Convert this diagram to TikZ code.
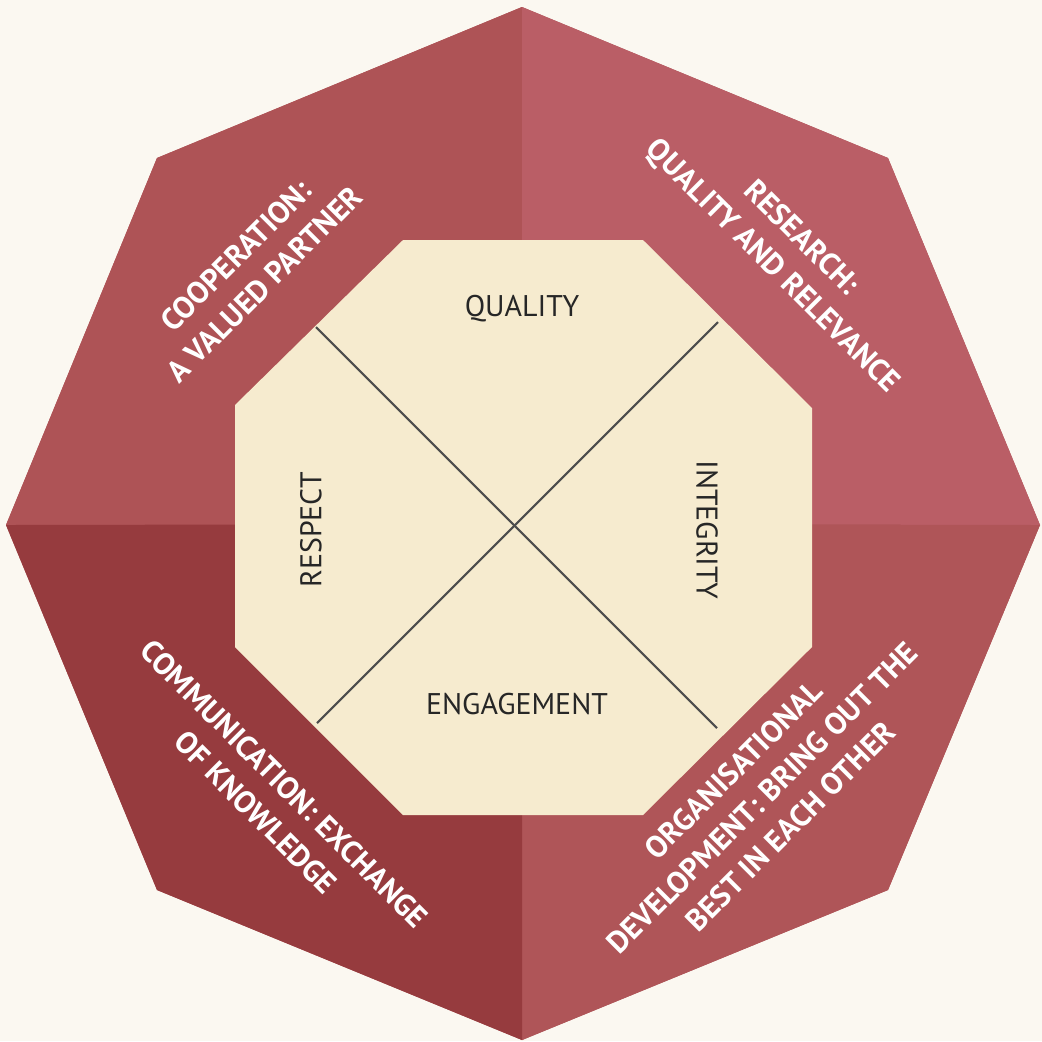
\documentclass[tikz,border=0pt]{standalone}
\usepackage{fontspec}
\setmainfont{PT Sans}
\definecolor{paper}{HTML}{FBF8F1}
\definecolor{segtl}{HTML}{AE5356}
\definecolor{segtr}{HTML}{BA5E66}
\definecolor{segbl}{HTML}{963B3E}
\definecolor{segbr}{HTML}{AF5558}
\definecolor{core}{HTML}{F6EBCF}
\definecolor{crossgray}{HTML}{4D4D4D}
\begin{document}
\begin{tikzpicture}[x=0.01cm, y=-0.01cm,
  goal/.style={text=white, font=\bfseries\fontsize{8.7}{11.4}\selectfont, align=center, inner sep=0pt},
  value/.style={text=black!85, font=\fontsize{8.5}{10}\selectfont, inner sep=0pt},
  cross/.style={draw=crossgray, line width=0.6pt}]
\useasboundingbox (0,0) rectangle (1042,1041);
\fill[paper] (0,0) rectangle (1042,1041);
\fill[segtl] (522,7) -- (888,158) -- (1040,525) -- (888,890) -- (522,1040) -- (157,890) -- (6,525) -- (157,158) -- cycle;
\fill[segtl] (522,524) -- (6,525) -- (157,158) -- (522,7) -- cycle;
\fill[segtr] (522,524) -- (522,7) -- (888,158) -- (1040,525) -- cycle;
\fill[segbr] (522,524) -- (1040,525) -- (888,890) -- (522,1040) -- cycle;
\fill[segbl] (522,524) -- (522,1040) -- (157,890) -- (6,525) -- cycle;
\fill[core] (403,240) -- (643,240) -- (812,408) -- (812,647) -- (643,815) -- (403,815) -- (235,647) -- (235,405) -- cycle;
\coordinate (c1) at (316,327);
\coordinate (c2) at (718,322);
\coordinate (c3) at (717,728);
\coordinate (c4) at (317,723);
\draw[cross] (c1) -- (c3);
\draw[cross] (c2) -- (c4);
\node[value] (quality) at (522,309) {QUALITY};
\node[value] (engagement) at (517,704) {ENGAGEMENT};
\node[value,rotate=90] (respect) at (311,530) {RESPECT};
\node[value,rotate=-90] (integrity) at (707,530) {INTEGRITY};
\node[goal,rotate=45] (cooperation) at (250,270) {COOPERATION:\\A VALUED PARTNER};
\node[goal,rotate=-45] (research) at (786,253) {RESEARCH:\\QUALITY AND RELEVANCE};
\node[goal,rotate=-45] (communication) at (270,798) {COMMUNICATION: EXCHANGE\\OF KNOWLEDGE};
\node[goal,rotate=45] (development) at (762,798) {ORGANISATIONAL\\DEVELOPMENT: BRING OUT THE\\BEST IN EACH OTHER};
\end{tikzpicture}
\end{document}
